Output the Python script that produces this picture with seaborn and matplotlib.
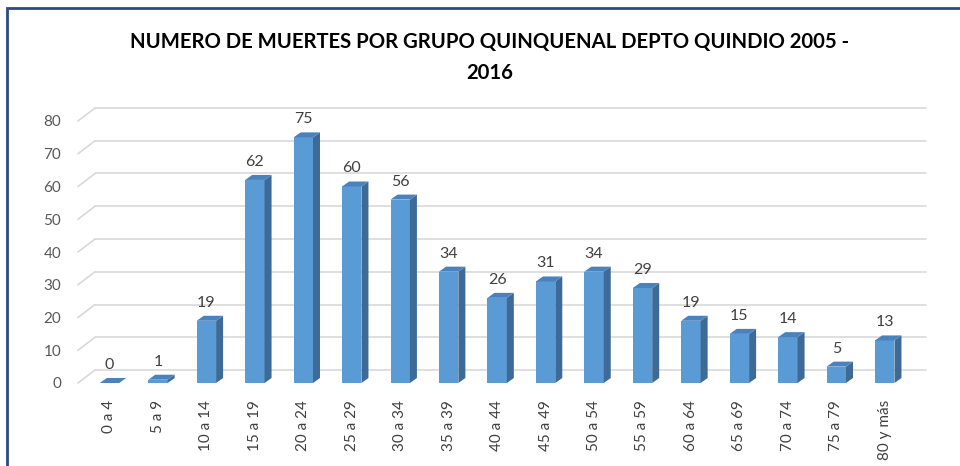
import matplotlib
matplotlib.use("Agg")
import matplotlib.pyplot as plt
import matplotlib.transforms as mtransforms
from matplotlib.patches import Polygon, Rectangle
from matplotlib.lines import Line2D
import seaborn as sns
import pandas as pd

sns.set_theme(style="white")
plt.rcParams["font.family"] = ["Lato", "DejaVu Sans"]

grupos = ["0 a 4", "5 a 9", "10 a 14", "15 a 19", "20 a 24", "25 a 29", "30 a 34",
          "35 a 39", "40 a 44", "45 a 49", "50 a 54", "55 a 59", "60 a 64",
          "65 a 69", "70 a 74", "75 a 79", "80 y más"]
muertes = [0, 1, 19, 62, 75, 60, 56, 34, 26, 31, 34, 29, 19, 15, 14, 5, 13]
y_ticks = [0, 10, 20, 30, 40, 50, 60, 70, 80]
titulo = "NUMERO DE MUERTES POR GRUPO QUINQUENAL DEPTO QUINDIO 2005 -\n2016"

front_color = "#5b9bd5"
side_color = "#3d6a96"
top_color = "#4a82bd"
grid_color = "#d9d9d9"
text_color = "#595959"
label_color = "#404040"

# 3D look: depth of the back wall and of the bars, in pixels
wall_dx, wall_dy = 17, 13
bar_dx, bar_dy = 7, 5

df = pd.DataFrame({"Grupo": grupos, "Muertes": muertes})

fig = plt.figure(figsize=(9.6, 4.66), dpi=100)
W, H = 960, 466
ax = fig.add_axes([78 / W, (H - 383) / H, (909 - 78) / W, (383 - 121) / H])

sns.barplot(data=df, x="Grupo", y="Muertes", color=front_color, width=0.4,
            saturation=1, linewidth=0, edgecolor="none", ax=ax, zorder=3)
ax.set_xlim(-0.65, 16.5)
ax.set_ylim(0, 80)
ax.set_yticks(y_ticks)
for s in ax.spines.values():
    s.set_visible(False)
ax.grid(False)
ax.set_xlabel("")
ax.set_ylabel("")
ax.tick_params(axis="y", length=0, pad=12, labelsize=11, labelcolor=text_color)
ax.tick_params(axis="x", length=0, pad=12, labelsize=11, labelcolor=label_color, rotation=90)
for lbl in ax.get_xticklabels():
    lbl.set_va("top")
    lbl.set_ha("center")

# back wall gridlines and floor diagonals
back = mtransforms.offset_copy(ax.get_yaxis_transform(), fig=fig, x=wall_dx, y=wall_dy, units="dots")
for v in y_ticks:
    ax.plot([0, 1], [v, v], transform=back, color=grid_color, lw=1.2, zorder=0, clip_on=False)
    p0 = ax.get_yaxis_transform().transform((0, v))
    fig.add_artist(Line2D([p0[0], p0[0] + wall_dx], [p0[1], p0[1] + wall_dy],
                          transform=mtransforms.IdentityTransform(), color=grid_color, lw=1.2))

# bar sides, tops and value labels
ident = mtransforms.IdentityTransform()
for patch, v in zip(ax.patches, muertes):
    x0, w = patch.get_x(), patch.get_width()
    (xl, yb), (xr, yt) = ax.transData.transform([(x0, 0), (x0 + w, v)])
    side = Polygon([(xr, yb), (xr, yt), (xr + bar_dx, yt + bar_dy), (xr + bar_dx, yb + bar_dy)],
                   closed=True, facecolor=side_color, edgecolor="none", transform=ident, zorder=4)
    top = Polygon([(xl, yt), (xr, yt), (xr + bar_dx, yt + bar_dy), (xl + bar_dx, yt + bar_dy)],
                  closed=True, facecolor=top_color, edgecolor="none", transform=ident, zorder=4)
    ax.add_artist(side)
    ax.add_artist(top)
    ax.annotate(str(v), (x0 + w / 2, v), xytext=(0, 11), textcoords="offset pixels",
                ha="center", va="bottom", fontsize=11.5, color=label_color)

fig.text(490 / W, 1 - 32 / H, titulo, ha="center", va="top", fontsize=14.6,
         fontweight="bold", color="black", linespacing=1.7)

fig.add_artist(Rectangle((7 / W, -0.1), 1.2, 1 - 8 / H + 0.1, transform=fig.transFigure,
                         facecolor="none", edgecolor="#2b4a86", lw=2))

fig.savefig("out.png", dpi=100)
